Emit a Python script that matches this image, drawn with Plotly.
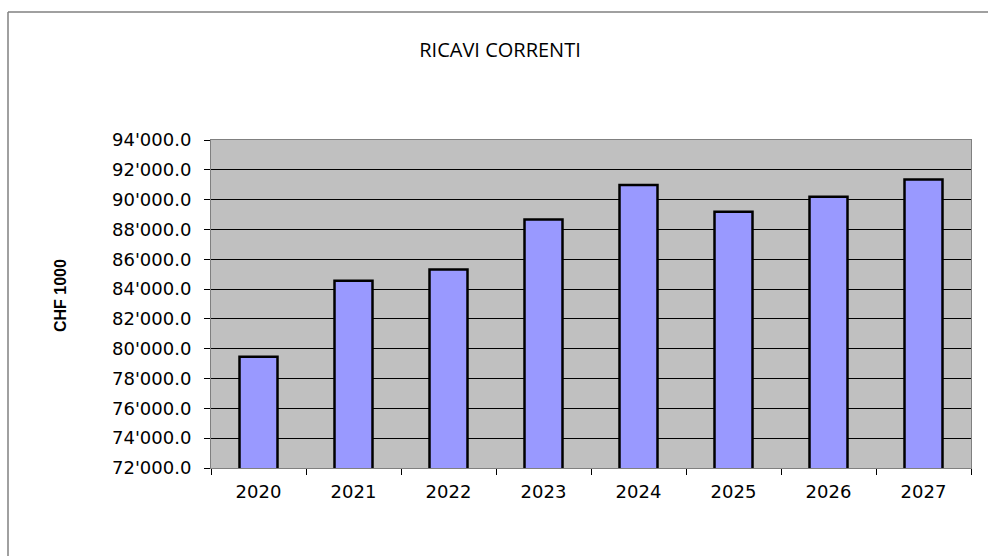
import plotly.graph_objects as go

years = ["2020", "2021", "2022", "2023", "2024", "2025", "2026", "2027"]
ricavi = [79470, 84560, 85310, 88670, 90990, 89180, 90190, 91350]
y_tickvals = [72000, 74000, 76000, 78000, 80000, 82000, 84000, 86000, 88000, 90000, 92000, 94000]
y_ticktext = ["72'000.0", "74'000.0", "76'000.0", "78'000.0", "80'000.0", "82'000.0",
              "84'000.0", "86'000.0", "88'000.0", "90'000.0", "92'000.0", "94'000.0"]

W, H = 988, 556
L, R, T, B = 211, 17, 140, 88
pw, ph = W - L - R, H - T - B

fig = go.Figure(go.Bar(
    x=years, y=ricavi,
    marker=dict(color="#9999FF", line=dict(color="black", width=2.5)),
    width=0.4,
))

def px2paper_x(px):
    return (px - L) / pw

def px2paper_y(py):
    return (H - B - py) / ph

fig.update_layout(
    width=W, height=H,
    margin=dict(l=L, r=R, t=T, b=B),
    paper_bgcolor="white",
    plot_bgcolor="#C0C0C0",
    font=dict(family="DejaVu Sans, sans-serif", size=18, color="black"),
    showlegend=False,
    title=dict(text="RICAVI CORRENTI", x=500 / W, xref="container", xanchor="center",
               y=1 - 50 / H, yanchor="middle", yref="container",
               font=dict(family="Open Sans, sans-serif", size=20)),
    xaxis=dict(
        type="category", tickson="boundaries", ticks="outside", ticklen=6,
        tickcolor="black", showline=True, linecolor="#808080", linewidth=1, mirror=True,
        showgrid=False, tickfont=dict(size=18), ticklabelstandoff=7,
    ),
    yaxis=dict(
        range=[72000, 94000], tickvals=y_tickvals, ticktext=y_ticktext,
        ticks="outside", ticklen=6, tickcolor="black",
        showline=True, linecolor="#808080", linewidth=1, mirror=True,
        showgrid=True, gridcolor="black", gridwidth=1,
        tickfont=dict(size=18), ticklabelstandoff=9, zeroline=False,
    ),
    annotations=[dict(
        text="<b>CHF 1000</b>", textangle=-90, x=px2paper_x(60), y=px2paper_y(296),
        xref="paper", yref="paper", showarrow=False,
        font=dict(family="Liberation Sans, Arial, sans-serif", size=16),
        xanchor="center", yanchor="middle",
    )],
    shapes=[
        dict(type="line", xref="paper", yref="paper",
             x0=px2paper_x(8), x1=px2paper_x(8), y0=px2paper_y(W), y1=px2paper_y(12),
             line=dict(color="#808080", width=1.5)),
        dict(type="line", xref="paper", yref="paper",
             x0=px2paper_x(8), x1=px2paper_x(W + 10), y0=px2paper_y(12), y1=px2paper_y(12),
             line=dict(color="#808080", width=1.5)),
    ],
)

fig.write_html("out.html")
